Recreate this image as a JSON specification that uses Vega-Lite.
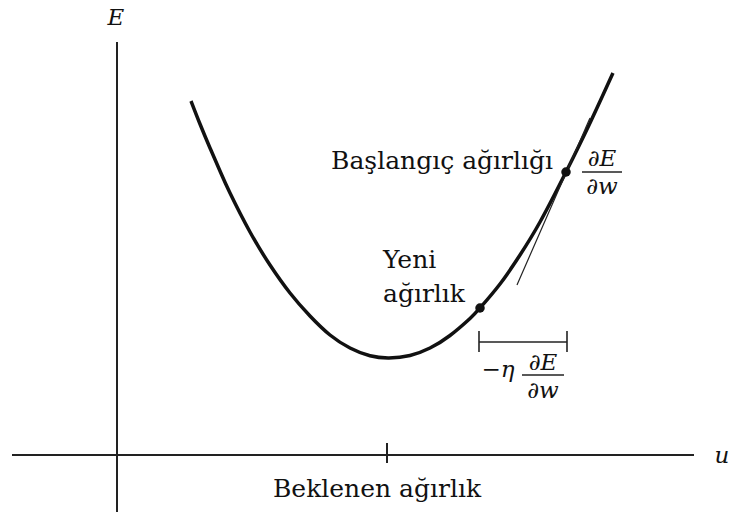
{
  "$schema": "https://vega.github.io/schema/vega-lite/v6.json",
  "width": 731,
  "height": 519,
  "autosize": {"type": "fit", "contains": "padding"},
  "padding": 0,
  "background": "white",
  "config": {"view": {"stroke": null}},
  "encoding": {
    "x": {"field": "x", "type": "quantitative", "scale": {"domain": [0, 731], "nice": false, "zero": false}, "axis": null},
    "y": {"field": "y", "type": "quantitative", "scale": {"domain": [0, 519], "nice": false, "zero": false, "reverse": true}, "axis": null}
  },
  "layer": [
    {
      "data": {"values": [
        {"part": "E axis", "x": 117, "y": 42, "x2": 117, "y2": 512},
        {"part": "u axis", "x": 12, "y": 455, "x2": 694, "y2": 455},
        {"part": "tick", "x": 387, "y": 443, "x2": 387, "y2": 463}
      ]},
      "mark": {"type": "rule", "strokeWidth": 2, "color": "#222"},
      "encoding": {"x2": {"field": "x2"}, "y2": {"field": "y2"}}
    },
    {
      "data": {"values": [
        {"x": 191, "y": 101}, {"x": 200, "y": 124}, {"x": 210, "y": 148}, {"x": 220, "y": 171},
        {"x": 230, "y": 193}, {"x": 250, "y": 232}, {"x": 270, "y": 265}, {"x": 290, "y": 293},
        {"x": 310, "y": 316}, {"x": 330, "y": 335}, {"x": 350, "y": 348}, {"x": 370, "y": 355.8},
        {"x": 389, "y": 358}, {"x": 410, "y": 355.5}, {"x": 430, "y": 348}, {"x": 450, "y": 335.5},
        {"x": 470, "y": 318.5}, {"x": 480, "y": 308}, {"x": 500, "y": 284}, {"x": 520, "y": 255},
        {"x": 540, "y": 222}, {"x": 566, "y": 172}, {"x": 590, "y": 123}, {"x": 613, "y": 73}
      ]},
      "mark": {"type": "line", "strokeWidth": 3.5, "color": "#111", "interpolate": "natural"},
      "encoding": {"order": {"field": "x", "type": "quantitative"}}
    },
    {
      "data": {"values": [
        {"part": "tangent", "x": 517, "y": 285, "x2": 590, "y2": 118}
      ]},
      "mark": {"type": "rule", "strokeWidth": 1.2, "color": "#222"},
      "encoding": {"x2": {"field": "x2"}, "y2": {"field": "y2"}}
    },
    {
      "data": {"values": [
        {"part": "bracket", "x": 479, "y": 342, "x2": 567, "y2": 342},
        {"part": "left end", "x": 479, "y": 331, "x2": 479, "y2": 352},
        {"part": "right end", "x": 567, "y": 331, "x2": 567, "y2": 352},
        {"part": "fraction bar top", "x": 582, "y": 172, "x2": 622, "y2": 172},
        {"part": "fraction bar bottom", "x": 522, "y": 375, "x2": 564, "y2": 375}
      ]},
      "mark": {"type": "rule", "strokeWidth": 1.6, "color": "#222"},
      "encoding": {"x2": {"field": "x2"}, "y2": {"field": "y2"}}
    },
    {
      "data": {"values": [
        {"name": "Yeni ağırlık", "x": 480, "y": 308},
        {"name": "Başlangıç ağırlığı", "x": 566, "y": 172}
      ]},
      "mark": {"type": "point", "filled": true, "size": 90, "color": "#111", "opacity": 1}
    },
    {
      "data": {"values": [
        {"label": "Başlangıç ağırlığı", "x": 553, "y": 169}
      ]},
      "mark": {"type": "text", "font": "DejaVu Serif", "fontSize": 25, "baseline": "alphabetic", "align": "right", "color": "#111"},
      "encoding": {"text": {"field": "label"}}
    },
    {
      "data": {"values": [
        {"label": "Yeni", "x": 383, "y": 268},
        {"label": "ağırlık", "x": 383, "y": 302}
      ]},
      "mark": {"type": "text", "font": "DejaVu Serif", "fontSize": 25, "baseline": "alphabetic", "align": "left", "color": "#111"},
      "encoding": {"text": {"field": "label"}}
    },
    {
      "data": {"values": [
        {"label": "Beklenen ağırlık", "x": 377, "y": 497}
      ]},
      "mark": {"type": "text", "font": "DejaVu Serif", "fontSize": 25, "baseline": "alphabetic", "align": "center", "color": "#111"},
      "encoding": {"text": {"field": "label"}}
    },
    {
      "data": {"values": [
        {"label": "E", "x": 116, "y": 25},
        {"label": "u", "x": 722, "y": 463},
        {"label": "∂E", "x": 602, "y": 166},
        {"label": "∂w", "x": 602, "y": 194},
        {"label": "∂E", "x": 543, "y": 370},
        {"label": "∂w", "x": 543, "y": 398},
        {"label": "−η", "x": 498, "y": 377}
      ]},
      "mark": {"type": "text", "font": "DejaVu Serif", "fontSize": 23, "fontStyle": "italic", "baseline": "alphabetic", "align": "center", "color": "#111"},
      "encoding": {"text": {"field": "label"}}
    }
  ]
}
